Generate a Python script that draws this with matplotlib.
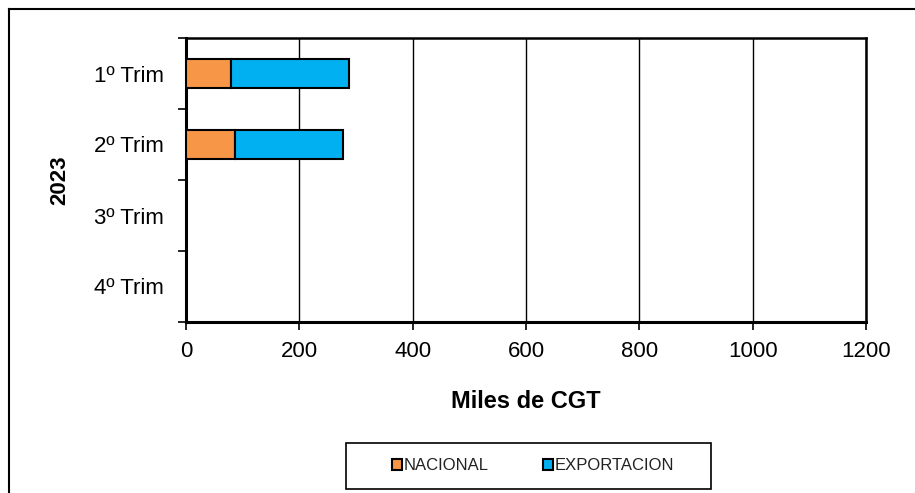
import matplotlib
matplotlib.use("Agg")
import matplotlib.pyplot as plt
from matplotlib.lines import Line2D
from matplotlib.patches import Patch, Rectangle

plt.rcParams['font.family'] = ['Liberation Sans', 'DejaVu Sans']

categories = ["1º Trim", "2º Trim", "3º Trim", "4º Trim"]
nacional = [79, 86, 0, 0]
exportacion = [209, 191, 0, 0]
series_names = ["NACIONAL", "EXPORTACION"]
colors = ["#F79646", "#00B0F0"]
xticks = [0, 200, 400, 600, 800, 1000, 1200]

W, H = 915, 493
fig = plt.figure(figsize=(W / 100, H / 100), dpi=100)
fig.patch.set_facecolor("white")

# outer frame (left and top visible)
fig.add_artist(Line2D([9 / W, 9 / W], [0, 1 - 9 / H], color="black", lw=1.5, transform=fig.transFigure))
fig.add_artist(Line2D([9 / W, 1], [1 - 9 / H, 1 - 9 / H], color="black", lw=1.5, transform=fig.transFigure))

ax = fig.add_axes([186 / W, (H - 322) / H, 680 / W, 284 / H])
ypos = list(range(len(categories)))
ax.barh(ypos, nacional, height=0.4, color=colors[0], edgecolor="black", linewidth=1.5, zorder=3)
ax.barh(ypos, exportacion, left=nacional, height=0.4, color=colors[1], edgecolor="black", linewidth=1.5, zorder=3)
for p in ax.patches:
    if p.get_width() == 0:
        p.set_visible(False)

ax.set_xlim(0, 1200)
ax.set_ylim(len(categories) - 0.5, -0.5)
ax.set_xticks(xticks)
ax.set_xticklabels([str(x) for x in xticks], fontsize=16)
ax.set_yticks(ypos)
ax.set_yticklabels(categories, fontsize=16)
ax.tick_params(axis="y", length=0, pad=16)
ax.set_yticks([i - 0.5 for i in range(len(categories) + 1)], minor=True)
ax.tick_params(axis="y", which="minor", length=6, width=1.2, direction="out")
ax.tick_params(axis="x", length=6, width=1.2, direction="out", pad=8)
ax.grid(axis="x", color="black", lw=1.0, zorder=1)
for s in ["left", "bottom"]:
    ax.spines[s].set_linewidth(2.2)
for s in ["top", "right"]:
    ax.spines[s].set_linewidth(1.8)

ax.set_xlabel("Miles de CGT", fontsize=17, fontweight="bold", labelpad=20)
fig.text(60 / W, 1 - 180 / H, "2023", rotation=90, fontsize=16, fontweight="bold",
         ha="center", va="center")

# legend box
fig.add_artist(Rectangle((346 / W, 1 - 489 / H), 365 / W, 46 / H, transform=fig.transFigure,
                         facecolor="white", edgecolor="black", linewidth=1.2, zorder=5))
handles = [Patch(facecolor=c, edgecolor="black", linewidth=1.5) for c in colors]
leg = fig.legend(handles, series_names, loc="center", bbox_to_anchor=(533 / W, 1 - 466 / H),
                 ncol=2, fontsize=12, frameon=False,
                 handlelength=0.6, handleheight=0.6, handletextpad=0.1, columnspacing=3.3,
                 borderpad=0, borderaxespad=0)
leg.set_zorder(6)
for t in leg.get_texts():
    t.set_color("#222222")

fig.savefig("out.png", dpi=100, facecolor="white")
